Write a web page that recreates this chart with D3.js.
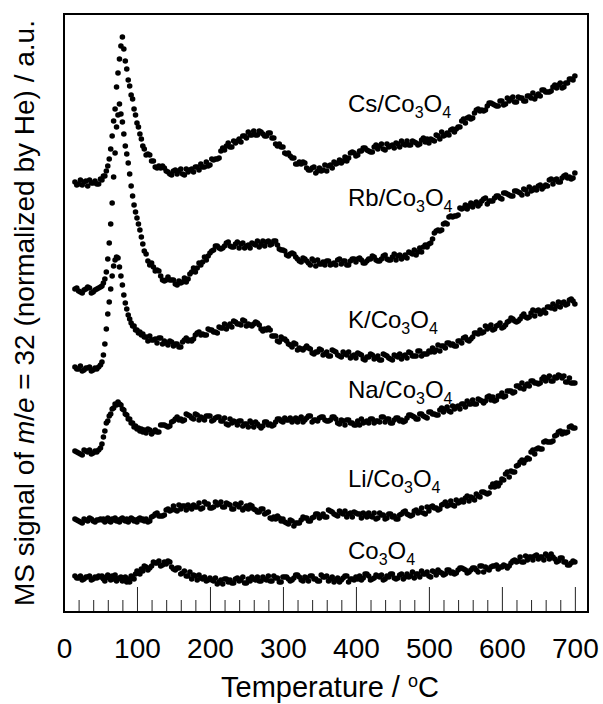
<!DOCTYPE html>
<html>
<head>
<meta charset="utf-8">
<script src="https://cdn.jsdelivr.net/npm/d3@7"></script>
<style>
  html, body { margin: 0; padding: 0; background: #fff; }
  svg { display: block; }
  text { font-family: "Liberation Sans", Arial, sans-serif; fill: #000; }
</style>
</head>
<body>
<svg id="chart" width="603" height="704"></svg>
<script>
// Sampling temperatures (°C), first pass
const temps = [
  15, 20, 25, 30, 35, 40, 45, 50,
  52, 54, 56, 58, 60, 62, 64, 66, 68, 70, 72, 74, 76, 78, 80, 82, 84, 86, 88, 90,
  92, 94, 96, 98, 100, 102, 104, 106, 108, 110,
  115, 120, 125, 130, 135, 140, 145, 150, 155, 160, 165, 170, 175, 180, 185, 190, 195, 200,
  205, 210, 215, 220, 225, 230, 235, 240, 245, 250, 255, 260, 265, 270, 275, 280, 285, 290, 295, 300,
  305, 310, 315, 320, 325, 330, 335, 340, 345, 350, 355, 360, 365, 370, 375, 380, 385, 390, 395, 400,
  405, 410, 415, 420, 425, 430, 435, 440, 445, 450, 455, 460, 465, 470, 475, 480, 485, 490, 495, 500,
  505, 510, 515, 520, 525, 530, 535, 540, 545, 550, 555, 560, 565, 570, 575, 580, 585, 590, 595, 600,
  605, 610, 615, 620, 625, 630, 635, 640, 645, 650, 655, 660, 665, 670, 675, 680, 685, 690, 695, 700
];

// Interleaved readings between the first-pass temperatures
const tempsMid = [
  17.5, 22.5, 27.5, 32.5, 37.5, 42.5, 47.5,
  112.5, 117.5, 122.5, 127.5, 132.5, 137.5, 142.5, 147.5, 152.5, 157.5, 162.5, 167.5, 172.5, 177.5, 182.5, 187.5, 192.5, 197.5,
  202.5, 207.5, 212.5, 217.5, 222.5, 227.5, 232.5, 237.5, 242.5, 247.5, 252.5, 257.5, 262.5, 267.5, 272.5, 277.5, 282.5, 287.5, 292.5, 297.5,
  302.5, 307.5, 312.5, 317.5, 322.5, 327.5, 332.5, 337.5, 342.5, 347.5, 352.5, 357.5, 362.5, 367.5, 372.5, 377.5, 382.5, 387.5, 392.5, 397.5,
  402.5, 407.5, 412.5, 417.5, 422.5, 427.5, 432.5, 437.5, 442.5, 447.5, 452.5, 457.5, 462.5, 467.5, 472.5, 477.5, 482.5, 487.5, 492.5, 497.5,
  502.5, 507.5, 512.5, 517.5, 522.5, 527.5, 532.5, 537.5, 542.5, 547.5, 552.5, 557.5, 562.5, 567.5, 572.5, 577.5, 582.5, 587.5, 592.5, 597.5,
  602.5, 607.5, 612.5, 617.5, 622.5, 627.5, 632.5, 637.5, 642.5, 647.5, 652.5, 657.5, 662.5, 667.5, 672.5, 677.5, 682.5, 687.5, 692.5, 697.5
];

// O2 signal (a.u., offset stacked) for each catalyst
const csValues = [
  43.0, 42.8, 42.7, 43.1, 43.2, 42.9, 42.8, 43.3,
  43.2, 43.6, 43.6, 44.1, 44.6, 45.3, 46.3, 47.6, 49.1, 50.3, 52.5, 53.9, 55.3, 56.6, 57.5, 56.3, 55.1, 54.3, 53.2, 52.6,
  51.7, 51.3, 50.3, 49.7, 48.9, 48.5, 47.8, 47.3, 46.6, 46.3,
  45.8, 45.1, 44.5, 44.6, 44.6, 44.1, 43.8, 44.1, 43.8, 44.3, 43.7, 44.0, 44.3, 44.5, 44.2, 44.5, 45.0, 44.7,
  45.2, 45.3, 46.1, 46.2, 46.9, 46.5, 46.9, 47.3, 47.6, 47.4, 47.7, 48.1, 47.7, 48.0, 47.6, 47.9, 47.4, 46.8, 46.8, 46.5,
  45.8, 45.6, 45.4, 44.8, 44.8, 44.9, 44.2, 44.4, 43.9, 44.4, 44.2, 44.1, 44.7, 45.0, 44.9, 44.9, 45.5, 45.4, 46.0, 45.6,
  46.1, 46.4, 46.2, 46.0, 46.5, 46.3, 46.8, 46.2, 46.5, 46.7, 46.9, 46.5, 46.8, 47.1, 46.7, 47.0, 46.7, 47.2, 47.0, 46.9,
  47.2, 47.7, 47.3, 47.6, 47.9, 48.2, 48.0, 48.5, 49.1, 48.9, 49.5, 49.4, 50.2, 50.1, 50.1, 50.6, 50.9, 50.7, 50.6, 51.1,
  50.8, 51.1, 51.5, 51.0, 51.4, 51.1, 51.6, 51.4, 51.3, 51.8, 52.2, 52.0, 52.0, 52.5, 52.4, 52.9, 52.5, 52.9, 53.3, 53.6
];
const csValuesMid = [
  42.7, 43.2, 43.0, 42.6, 42.9, 43.1, 42.8,
  45.7, 45.7, 45.1, 44.4, 44.4, 44.4, 44.0, 43.7, 44.2, 44.1, 43.8, 44.3, 44.2, 44.0, 44.5, 44.8, 44.5, 44.6,
  45.3, 45.3, 45.4, 46.4, 46.6, 46.5, 47.1, 47.1, 47.0, 47.6, 48.0, 47.7, 47.7, 48.1, 47.8, 47.6, 47.9, 47.4, 46.6, 46.5,
  45.9, 45.9, 45.4, 44.8, 45.0, 45.0, 44.4, 44.2, 44.5, 44.1, 44.1, 44.7, 44.6, 44.4, 44.8, 45.2, 45.1, 45.1, 45.9, 45.9,
  45.7, 46.1, 46.4, 46.1, 46.0, 46.7, 46.6, 46.3, 46.8, 46.6, 46.4, 46.8, 47.1, 46.7, 46.7, 47.1, 46.9, 46.8, 47.4, 47.3,
  47.3, 47.1, 47.6, 48.0, 47.7, 47.7, 48.3, 48.3, 48.5, 49.3, 49.4, 49.3, 49.9, 50.3, 50.2, 50.2, 50.9, 50.8, 50.6, 51.1,
  50.7, 51.4, 51.3, 51.0, 51.5, 51.4, 51.1, 51.6, 51.9, 51.6, 51.6, 52.2, 52.0, 52.1, 52.7, 52.7, 52.4, 52.9, 53.3, 53.2
];

const rbValues = [
  32.3, 32.1, 31.9, 32.3, 32.4, 32.0, 32.3, 32.5,
  32.6, 32.9, 33.3, 34.0, 35.3, 36.9, 38.8, 40.9, 43.5, 45.9, 48.5, 49.7, 50.8, 49.8, 49.0, 47.8, 46.6, 45.8, 44.9, 43.8,
  42.6, 41.6, 40.7, 40.0, 39.4, 38.8, 38.2, 37.5, 36.8, 36.1,
  35.1, 34.9, 34.1, 34.1, 33.2, 33.2, 33.2, 33.2, 32.7, 32.9, 33.4, 33.3, 34.0, 34.0, 34.9, 35.0, 35.2, 35.9,
  36.2, 36.6, 36.3, 36.6, 37.0, 36.5, 36.8, 36.4, 36.9, 36.6, 36.4, 36.8, 37.1, 36.8, 36.6, 37.1, 36.8, 37.1, 36.3, 36.2,
  35.7, 35.8, 35.8, 35.3, 35.0, 35.3, 34.9, 35.3, 34.6, 34.8, 35.0, 35.1, 34.7, 34.9, 35.2, 34.8, 35.1, 34.7, 35.3, 35.0,
  35.4, 34.9, 35.1, 35.3, 35.5, 35.1, 35.3, 35.7, 35.2, 35.5, 35.2, 35.7, 35.5, 35.4, 35.9, 36.2, 36.0, 36.0, 36.7, 36.8,
  37.3, 38.1, 38.1, 38.8, 38.8, 39.6, 39.6, 39.7, 40.3, 40.7, 40.6, 40.5, 41.0, 40.8, 41.3, 40.8, 41.1, 41.4, 41.6, 41.3,
  41.9, 41.7, 41.6, 42.1, 41.9, 42.3, 41.8, 42.1, 42.4, 42.6, 42.3, 42.7, 43.2, 42.8, 43.3, 43.0, 43.6, 43.4, 43.3, 43.9
];
const rbValuesMid = [
  32.4, 32.0, 32.2, 32.5, 31.9, 32.2, 32.4,
  35.8, 34.7, 34.5, 34.2, 33.6, 33.1, 33.5, 33.2, 32.8, 33.1, 33.0, 33.0, 33.8, 34.4, 34.4, 34.7, 35.5, 35.6,
  36.1, 36.6, 36.4, 36.4, 36.9, 36.6, 36.5, 37.0, 36.8, 36.4, 36.7, 36.9, 36.7, 36.5, 37.1, 37.0, 36.7, 37.1, 36.7, 36.2,
  36.1, 35.6, 35.9, 35.5, 35.1, 35.4, 35.1, 34.7, 35.1, 35.2, 34.8, 34.7, 35.1, 34.8, 34.7, 35.3, 35.1, 34.7, 35.1, 35.3,
  35.3, 35.2, 34.9, 35.3, 35.6, 35.2, 35.1, 35.6, 35.3, 35.2, 35.8, 35.6, 35.3, 35.7, 36.0, 35.8, 35.7, 36.4, 36.5, 36.5,
  36.9, 37.9, 38.2, 38.2, 38.9, 39.5, 39.5, 39.6, 40.4, 40.4, 40.3, 40.9, 40.8, 40.6, 41.1, 41.4, 41.1, 41.1, 41.6, 41.4,
  41.9, 41.8, 41.6, 42.1, 42.0, 41.7, 42.2, 42.5, 42.2, 42.2, 42.7, 42.5, 42.6, 43.3, 43.2, 43.0, 43.4, 43.7, 43.5, 43.4
];

const kValues = [
  24.5, 24.3, 24.1, 24.4, 24.5, 24.2, 24.3, 24.7,
  25.0, 25.7, 26.8, 28.3, 29.8, 31.0, 32.3, 33.6, 34.6, 35.2, 35.5, 35.4, 34.5, 33.6, 32.7, 31.7, 30.9, 30.3, 29.7, 29.3,
  28.9, 28.6, 28.6, 28.2, 28.2, 27.9, 28.0, 27.7, 27.8, 27.5,
  27.1, 27.2, 27.3, 27.4, 26.8, 26.9, 27.1, 26.6, 26.8, 26.5, 27.2, 27.1, 27.1, 27.7, 28.0, 27.8, 27.7, 28.2,
  28.0, 27.9, 28.4, 28.8, 28.6, 28.5, 29.0, 28.8, 29.2, 28.6, 28.7, 28.8, 28.9, 28.3, 28.3, 28.4, 27.6, 27.6, 27.0, 27.3,
  27.1, 26.7, 26.9, 26.2, 26.3, 26.4, 26.4, 25.9, 26.0, 26.3, 25.7, 26.0, 25.6, 26.1, 25.7, 25.5, 25.8, 26.0, 25.6, 25.4,
  25.8, 25.3, 25.5, 25.8, 25.3, 25.6, 25.2, 25.7, 25.4, 25.2, 25.6, 25.8, 25.6, 25.4, 25.9, 25.6, 26.1, 25.6, 25.8, 26.1,
  26.4, 26.2, 26.1, 26.6, 26.9, 26.7, 26.6, 27.1, 26.9, 27.5, 27.1, 27.5, 27.9, 28.2, 28.0, 28.3, 28.7, 28.3, 28.7, 28.4,
  28.7, 29.1, 29.3, 29.0, 29.3, 29.8, 29.4, 29.9, 29.6, 30.2, 30.0, 29.9, 30.5, 30.8, 30.6, 30.5, 31.0, 30.8, 31.3, 30.8
];
const kValuesMid = [
  24.3, 24.6, 24.2, 24.4, 24.1, 24.4, 24.5,
  27.5, 27.6, 27.2, 26.9, 27.4, 27.1, 26.7, 27.0, 26.8, 26.5, 27.0, 27.4, 27.2, 27.3, 27.9, 27.7, 27.7, 28.3,
  28.2, 28.0, 28.5, 28.4, 28.3, 28.8, 29.1, 28.8, 28.7, 29.1, 28.8, 28.6, 29.0, 28.7, 28.1, 28.2, 28.2, 27.6, 27.1, 27.5,
  27.3, 26.8, 26.5, 26.8, 26.4, 26.2, 26.6, 26.3, 25.8, 26.0, 26.2, 25.8, 25.6, 26.2, 26.0, 25.6, 26.0, 25.7, 25.4, 25.7,
  25.9, 25.7, 25.2, 25.5, 25.7, 25.4, 25.2, 25.8, 25.6, 25.3, 25.7, 25.5, 25.3, 25.7, 26.0, 25.6, 25.6, 26.1, 25.8, 25.8,
  26.0, 26.0, 26.7, 26.6, 26.4, 26.9, 26.8, 26.6, 27.1, 27.4, 27.2, 27.3, 27.9, 27.8, 27.9, 28.6, 28.5, 28.2, 28.6, 28.9,
  28.5, 29.0, 29.4, 29.1, 29.1, 29.6, 29.5, 29.5, 30.2, 30.1, 29.8, 30.2, 30.5, 30.4, 30.3, 31.0, 30.9, 30.7, 31.2, 31.1
];

const naValues = [
  16.1, 15.9, 15.7, 16.1, 16.2, 15.9, 16.0, 16.4,
  16.8, 17.5, 18.1, 18.9, 19.1, 19.6, 19.8, 20.3, 20.4, 20.8, 20.7, 21.0, 20.8, 20.7, 20.3, 20.2, 19.8, 19.7, 19.3, 19.3,
  18.9, 18.9, 18.5, 18.6, 18.3, 18.4, 18.1, 18.3, 18.0, 18.2,
  18.3, 17.8, 18.2, 18.0, 18.7, 18.6, 18.6, 19.1, 19.5, 19.3, 19.2, 19.7, 19.4, 19.8, 19.2, 19.4, 19.6, 19.6,
  19.2, 19.5, 19.1, 19.4, 18.7, 18.9, 19.0, 19.1, 18.6, 18.8, 19.1, 18.5, 18.8, 18.4, 19.0, 18.7, 18.6, 19.0, 19.3, 19.0,
  19.2, 19.4, 19.2, 19.0, 19.5, 19.2, 19.6, 19.0, 19.2, 19.4, 19.5, 19.1, 19.2, 19.5, 18.9, 19.2, 18.7, 19.2, 18.9, 18.7,
  18.7, 18.9, 19.1, 19.3, 18.9, 19.1, 19.5, 19.0, 19.3, 18.9, 19.4, 19.1, 19.0, 19.4, 19.7, 19.5, 19.3, 19.8, 19.5, 20.0,
  19.8, 19.7, 20.2, 20.0, 20.5, 20.0, 20.3, 20.6, 20.8, 20.5, 20.8, 21.2, 20.8, 21.2, 20.9, 21.5, 21.2, 21.1, 21.6, 21.9,
  21.6, 22.1, 21.9, 22.6, 22.4, 22.3, 22.8, 23.1, 22.9, 22.8, 23.3, 23.1, 23.6, 23.1, 23.4, 23.6, 23.6, 23.0, 22.9, 22.9
];
const naValuesMid = [
  16.0, 15.8, 16.2, 16.0, 15.8, 16.1, 16.2,
  17.9, 18.2, 18.0, 18.0, 18.7, 18.7, 18.5, 19.0, 19.3, 19.2, 19.1, 19.8, 19.6, 19.3, 19.7, 19.5, 19.2, 19.6,
  19.1, 19.4, 19.5, 19.1, 18.8, 19.3, 19.1, 18.7, 19.1, 18.8, 18.5, 18.9, 19.0, 18.6, 18.6, 19.0, 18.8, 18.7, 19.3, 19.1,
  19.4, 19.2, 19.0, 19.4, 19.3, 19.0, 19.4, 19.6, 19.2, 19.1, 19.5, 19.2, 19.1, 19.5, 19.3, 18.8, 19.1, 19.2, 18.9, 18.7,
  19.1, 19.3, 19.0, 18.9, 19.3, 19.1, 19.0, 19.5, 19.3, 18.9, 19.2, 19.4, 19.2, 19.1, 19.7, 19.6, 19.3, 19.8, 19.6, 19.4,
  20.0, 19.8, 19.7, 20.4, 20.3, 20.1, 20.6, 20.5, 20.3, 20.8, 21.1, 20.8, 20.8, 21.3, 21.1, 21.1, 21.6, 21.5, 21.2, 21.6,
  21.5, 22.1, 22.1, 22.0, 22.6, 22.9, 22.6, 22.6, 23.1, 22.9, 22.9, 23.5, 23.4, 23.1, 23.5, 23.7, 23.4, 23.0, 23.4, 22.9
];

const liValues = [
  9.3, 9.1, 8.9, 9.2, 9.4, 9.1, 9.2, 9.3,
  9.2, 9.3, 9.0, 9.2, 9.4, 9.1, 9.0, 9.3, 9.2, 9.4, 9.1, 9.2, 9.0, 9.3, 9.4, 9.2, 9.1, 9.3, 9.0, 9.2,
  9.4, 9.3, 9.1, 9.2, 9.0, 9.3, 9.4, 9.2, 9.3, 9.1,
  9.0, 9.5, 9.8, 9.6, 9.6, 10.2, 10.1, 10.6, 10.1, 10.3, 10.6, 10.7, 10.3, 10.5, 10.9, 10.4, 10.8, 10.4,
  10.5, 10.7, 11.0, 10.5, 10.8, 10.3, 10.8, 10.5, 10.2, 10.6, 10.7, 10.3, 10.0, 10.3, 9.8, 10.0, 9.3, 9.3, 9.4, 9.3,
  8.9, 9.2, 8.6, 8.9, 9.2, 9.4, 9.1, 9.4, 9.8, 9.4, 9.8, 9.5, 10.1, 9.8, 9.6, 9.9, 10.1, 9.8, 9.5, 9.9,
  9.8, 9.9, 9.5, 9.6, 9.9, 9.4, 9.7, 9.3, 9.8, 9.5, 9.3, 9.7, 10.0, 9.8, 9.6, 10.1, 9.9, 10.4, 9.8, 10.1,
  10.6, 10.4, 10.3, 10.8, 10.6, 11.1, 10.6, 10.9, 11.2, 11.4, 11.1, 11.4, 11.8, 11.5, 12.0, 11.8, 12.5, 12.5, 12.6, 13.3,
  13.8, 13.5, 14.0, 14.6, 15.0, 14.9, 15.4, 16.0, 15.8, 16.4, 16.3, 17.1, 17.0, 17.1, 17.7, 18.1, 18.0, 18.0, 18.6, 18.4
];
const liValuesMid = [
  9.2, 9.0, 9.3, 9.1, 9.3, 9.0, 9.2,
  9.3, 9.1, 9.6, 9.9, 9.6, 9.7, 10.3, 10.2, 10.2, 10.7, 10.6, 10.2, 10.5, 10.7, 10.5, 10.3, 11.0, 10.8,
  10.4, 11.0, 10.8, 10.5, 10.9, 10.7, 10.3, 10.7, 10.9, 10.4, 10.3, 10.6, 10.2, 10.0, 10.3, 9.9, 9.4, 9.5, 9.6, 9.1,
  9.0, 8.8, 9.1, 8.9, 8.9, 9.5, 9.4, 9.1, 9.5, 9.8, 9.6, 9.5, 10.2, 10.0, 9.7, 10.1, 9.8, 9.5, 9.9, 10.0,
  9.8, 9.4, 9.7, 9.9, 9.5, 9.3, 9.9, 9.7, 9.4, 9.8, 9.6, 9.3, 9.8, 10.1, 9.7, 9.7, 10.2, 10.0, 9.9, 10.5,
  10.5, 10.4, 10.2, 10.7, 11.0, 10.7, 10.7, 11.2, 11.0, 11.0, 11.6, 11.5, 11.2, 11.6, 12.0, 11.9, 11.9, 12.8, 12.9, 12.9,
  13.2, 14.0, 14.1, 14.0, 14.7, 15.2, 15.2, 15.3, 16.2, 16.3, 16.3, 17.0, 17.0, 17.0, 17.6, 18.0, 17.8, 17.9, 18.5, 18.4
];

const coValues = [
  3.6, 3.4, 3.2, 3.5, 3.6, 3.3, 3.4, 3.5,
  3.6, 3.3, 3.1, 3.5, 3.7, 3.4, 3.2, 3.6, 3.3, 3.7, 3.1, 3.3, 3.4, 3.5, 3.1, 3.3, 3.5, 3.0, 3.3, 3.0,
  3.6, 3.4, 3.3, 3.8, 4.1, 3.9, 3.8, 4.3, 4.1, 4.6,
  4.2, 4.6, 4.9, 5.1, 4.7, 4.8, 5.0, 4.3, 4.4, 3.8, 4.1, 3.6, 3.3, 3.6, 3.7, 3.3, 3.1, 3.4,
  3.1, 2.8, 3.2, 3.3, 3.0, 2.9, 3.3, 3.1, 3.5, 2.9, 3.1, 3.3, 3.5, 3.1, 3.3, 3.6, 3.1, 3.4, 3.0, 3.5,
  3.5, 3.1, 3.4, 3.7, 3.2, 3.5, 3.1, 3.6, 3.3, 3.1, 3.5, 3.6, 3.3, 3.0, 3.4, 3.2, 3.6, 3.0, 3.3, 3.5,
  3.6, 3.4, 3.8, 3.2, 3.4, 3.6, 3.7, 3.3, 3.5, 3.8, 3.3, 3.7, 3.3, 3.8, 3.6, 3.4, 3.8, 4.1, 3.8, 3.6,
  4.1, 3.7, 4.0, 3.7, 4.2, 3.9, 3.8, 4.2, 4.4, 4.2, 4.0, 4.4, 4.2, 4.6, 4.0, 4.3, 4.5, 4.6, 4.3, 4.5,
  4.6, 4.6, 5.1, 5.0, 5.5, 5.0, 5.2, 5.5, 5.6, 5.3, 5.5, 5.8, 5.3, 5.5, 5.0, 5.4, 5.0, 4.7, 4.9, 5.0
];
const coValuesMid = [
  3.4, 3.6, 3.3, 3.5, 3.2, 3.5, 3.6,
  4.5, 4.4, 5.0, 4.9, 4.6, 5.0, 5.1, 4.5, 4.2, 4.4, 3.9, 3.6, 4.0, 3.7, 3.2, 3.4, 3.5, 3.2,
  3.2, 3.4, 3.0, 2.8, 3.3, 3.2, 2.9, 3.4, 3.2, 2.9, 3.3, 3.5, 3.2, 3.1, 3.5, 3.2, 3.1, 3.6, 3.4, 3.0,
  3.5, 3.3, 3.2, 3.7, 3.5, 3.1, 3.4, 3.6, 3.3, 3.1, 3.7, 3.5, 3.1, 3.5, 3.2, 3.0, 3.4, 3.6, 3.3, 3.2,
  3.3, 3.2, 3.8, 3.6, 3.3, 3.7, 3.5, 3.2, 3.6, 3.8, 3.4, 3.4, 3.8, 3.5, 3.5, 4.0, 3.8, 3.5, 3.8, 4.0,
  3.5, 4.0, 4.2, 3.9, 3.8, 4.2, 4.0, 3.9, 4.4, 4.3, 3.9, 4.2, 4.4, 4.0, 4.6, 4.5, 4.2, 4.6, 4.7, 4.5,
  4.7, 4.4, 4.9, 5.2, 5.1, 5.0, 5.6, 5.5, 5.2, 5.7, 5.5, 5.2, 5.6, 5.8, 5.3, 5.1, 5.4, 5.0, 4.7, 5.1
];

// Trace names (prefix before the support formula) in top-to-bottom order
const promoters = ["Cs/", "Rb/", "K/", "Na/", "Li/", ""];
const seriesValues = [csValues, rbValues, kValues, naValues, liValues, coValues];
const seriesValuesMid = [csValuesMid, rbValuesMid, kValuesMid, naValuesMid, liValuesMid, coValuesMid];

// Axis ticks
const majorTicks = [0, 100, 200, 300, 400, 500, 600, 700];
const minorTicks = d3.range(20, 700, 20).filter(v => v % 100 !== 0);

// ---- layout ----
const plot = { left: 64, right: 588, top: 14, bottom: 612 };
const labelLayout = { x: 348, baselines: [112, 206, 328, 398, 487, 559], size: 24, subSize: 16, subShift: 6 };
const dotRadius = 2.8;

const svg = d3.select("#chart");

const x = d3.scaleLinear().domain([0, 718]).range([plot.left, plot.right]);
const y = d3.scaleLinear().domain([0, 59.8]).range([plot.bottom, plot.top]);

// Minor ticks (inward, short)
svg.append("g")
  .attr("transform", `translate(0,${plot.bottom})`)
  .call(d3.axisBottom(x).tickValues(minorTicks).tickSize(-12).tickFormat(""))
  .call(g => g.select(".domain").remove())
  .call(g => g.selectAll("line").attr("stroke", "#222").attr("stroke-width", 1));

// Major ticks (inward, long) with labels below the frame
svg.append("g")
  .attr("transform", `translate(0,${plot.bottom})`)
  .call(d3.axisBottom(x).tickValues(majorTicks).tickSize(-25).tickPadding(26).tickFormat(d3.format("d")))
  .call(g => g.select(".domain").remove())
  .call(g => g.selectAll("line").attr("stroke", "#222").attr("stroke-width", 1))
  .call(g => g.selectAll("text")
    .attr("font-family", "'Liberation Sans', Arial, sans-serif")
    .attr("font-size", 28)
    .attr("fill", "#000"));

// Data points: both sampling passes of each trace
const pointsLayer = svg.append("g");
seriesValues.forEach((vals, s) => {
  const mids = seriesValuesMid[s];
  const pts = temps.map((t, i) => [t, vals[i]])
    .concat(tempsMid.map((t, i) => [t, mids[i]]));
  pointsLayer.append("g")
    .selectAll("circle")
    .data(pts)
    .join("circle")
    .attr("cx", d => x(d[0]))
    .attr("cy", d => y(d[1]))
    .attr("r", dotRadius)
    .attr("fill", "#000");
});

// Frame
svg.append("rect")
  .attr("x", plot.left).attr("y", plot.top)
  .attr("width", plot.right - plot.left).attr("height", plot.bottom - plot.top)
  .attr("fill", "none").attr("stroke", "#000").attr("stroke-width", 2);

// Trace labels: "<promoter>Co3O4" with subscripts
promoters.forEach((p, i) => {
  const t = svg.append("text")
    .attr("x", labelLayout.x)
    .attr("y", labelLayout.baselines[i])
    .attr("font-size", labelLayout.size);
  t.append("tspan").text(p + "Co");
  t.append("tspan").attr("font-size", labelLayout.subSize).attr("dy", labelLayout.subShift).text("3");
  t.append("tspan").attr("dy", -labelLayout.subShift).text("O");
  t.append("tspan").attr("font-size", labelLayout.subSize).attr("dy", labelLayout.subShift).text("4");
});

// Axis titles
svg.append("text")
  .attr("x", (plot.left + plot.right) / 2 + 4)
  .attr("y", 697)
  .attr("text-anchor", "middle")
  .attr("font-size", 29)
  .call(t => {
    t.append("tspan").text("Temperature / ");
    t.append("tspan").attr("font-size", 18).attr("dy", -10).text("o");
    t.append("tspan").attr("dy", 10).text("C");
  });

svg.append("text")
  .attr("transform", `translate(34,${(plot.top + plot.bottom) / 2}) rotate(-90)`)
  .attr("text-anchor", "middle")
  .attr("font-size", 28)
  .call(t => {
    t.append("tspan").text("MS signal of ");
    t.append("tspan").attr("font-style", "italic").text("m");
    t.append("tspan").text("/");
    t.append("tspan").attr("font-style", "italic").text("e");
    t.append("tspan").text(" = 32 (normalized by He) / a.u.");
  });
</script>
</body>
</html>
